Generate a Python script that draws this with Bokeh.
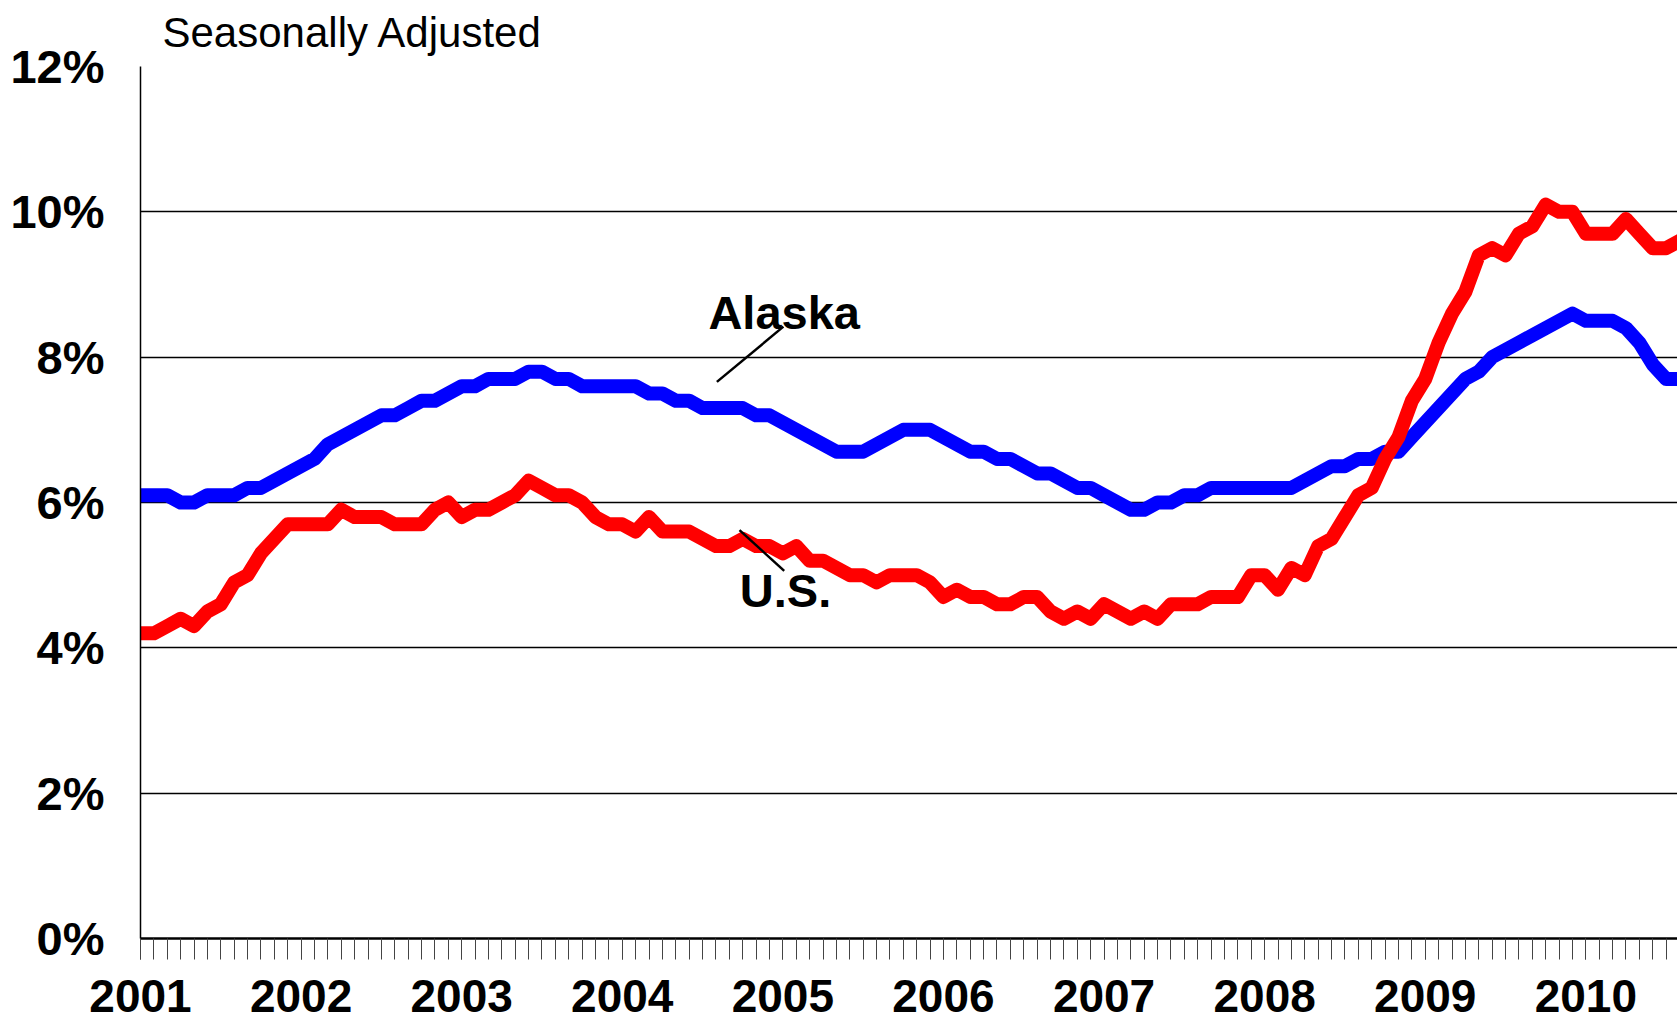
from bokeh.plotting import figure
from bokeh.models import Range1d, FixedTicker, Label, Segment, ColumnDataSource, Title
from bokeh.embed import file_html
from bokeh.resources import INLINE

# Monthly unemployment rates (%), Jan 2001 .. Aug 2010, seasonally adjusted
years = ["2001", "2002", "2003", "2004", "2005", "2006", "2007", "2008", "2009", "2010"]

alaska = [
    6.1, 6.1, 6.1, 6.0, 6.0, 6.1, 6.1, 6.1, 6.2, 6.2, 6.3, 6.4,   # 2001
    6.5, 6.6, 6.8, 6.9, 7.0, 7.1, 7.2, 7.2, 7.3, 7.4, 7.4, 7.5,   # 2002
    7.6, 7.6, 7.7, 7.7, 7.7, 7.8, 7.8, 7.7, 7.7, 7.6, 7.6, 7.6,   # 2003
    7.6, 7.6, 7.5, 7.5, 7.4, 7.4, 7.3, 7.3, 7.3, 7.3, 7.2, 7.2,   # 2004
    7.1, 7.0, 6.9, 6.8, 6.7, 6.7, 6.7, 6.8, 6.9, 7.0, 7.0, 7.0,   # 2005
    6.9, 6.8, 6.7, 6.7, 6.6, 6.6, 6.5, 6.4, 6.4, 6.3, 6.2, 6.2,   # 2006
    6.1, 6.0, 5.9, 5.9, 6.0, 6.0, 6.1, 6.1, 6.2, 6.2, 6.2, 6.2,   # 2007
    6.2, 6.2, 6.2, 6.3, 6.4, 6.5, 6.5, 6.6, 6.6, 6.7, 6.7, 6.9,   # 2008
    7.1, 7.3, 7.5, 7.7, 7.8, 8.0, 8.1, 8.2, 8.3, 8.4, 8.5, 8.6,   # 2009
    8.5, 8.5, 8.5, 8.4, 8.2, 7.9, 7.7, 7.7,                       # 2010
]

us = [
    4.2, 4.2, 4.3, 4.4, 4.3, 4.5, 4.6, 4.9, 5.0, 5.3, 5.5, 5.7,   # 2001
    5.7, 5.7, 5.7, 5.9, 5.8, 5.8, 5.8, 5.7, 5.7, 5.7, 5.9, 6.0,   # 2002
    5.8, 5.9, 5.9, 6.0, 6.1, 6.3, 6.2, 6.1, 6.1, 6.0, 5.8, 5.7,   # 2003
    5.7, 5.6, 5.8, 5.6, 5.6, 5.6, 5.5, 5.4, 5.4, 5.5, 5.4, 5.4,   # 2004
    5.3, 5.4, 5.2, 5.2, 5.1, 5.0, 5.0, 4.9, 5.0, 5.0, 5.0, 4.9,   # 2005
    4.7, 4.8, 4.7, 4.7, 4.6, 4.6, 4.7, 4.7, 4.5, 4.4, 4.5, 4.4,   # 2006
    4.6, 4.5, 4.4, 4.5, 4.4, 4.6, 4.6, 4.6, 4.7, 4.7, 4.7, 5.0,   # 2007
    5.0, 4.8, 5.1, 5.0, 5.4, 5.5, 5.8, 6.1, 6.2, 6.6, 6.9, 7.4,   # 2008
    7.7, 8.2, 8.6, 8.9, 9.4, 9.5, 9.4, 9.7, 9.8, 10.1, 10.0, 10.0, # 2009
    9.7, 9.7, 9.7, 9.9, 9.7, 9.5, 9.5, 9.6,                       # 2010
]

y_ticks = [0, 2, 4, 6, 8, 10, 12]
y_labels = ["0%", "2%", "4%", "6%", "8%", "10%", "12%"]

months = list(range(len(us)))
FONT = "Liberation Sans"

p = figure(width=1677, height=1021, output_backend="svg", toolbar_location=None,
           x_range=Range1d(0, 114.85), y_range=Range1d(0, 12),
           min_border_left=140, min_border_right=0, min_border_top=66,
           min_border_bottom=83)
p.outline_line_color = None
p.background_fill_color = "white"
p.border_fill_color = "white"

p.add_layout(Title(text="Seasonally Adjusted", align="left", offset=22,
                   standoff=17, vertical_align="top", text_font=FONT,
                   text_font_style="normal", text_font_size="42px",
                   text_color="black"), "above")

# grid
p.xgrid.grid_line_color = None
p.ygrid.ticker = FixedTicker(ticks=y_ticks)
p.ygrid.grid_line_color = "black"
p.ygrid.grid_line_width = 1.5

# y axis
p.yaxis.ticker = FixedTicker(ticks=y_ticks)
p.yaxis.major_label_overrides = {t: l for t, l in zip(y_ticks, y_labels)}
p.yaxis.major_tick_out = 0
p.yaxis.major_tick_in = 0
p.yaxis.minor_tick_out = 0
p.yaxis.minor_tick_in = 0
p.yaxis.axis_line_color = "black"
p.yaxis.axis_line_width = 1.5
p.yaxis.major_label_standoff = 36
p.yaxis.major_label_text_font = FONT
p.yaxis.major_label_text_font_style = "bold"
p.yaxis.major_label_text_font_size = "47px"
p.yaxis.major_label_text_color = "black"

# x axis (months since Jan 2001)
year_ticks = [12 * i for i in range(len(years))]
p.xaxis.ticker = FixedTicker(ticks=year_ticks, minor_ticks=months)
p.xaxis.major_label_overrides = {t: y for t, y in zip(year_ticks, years)}
p.xaxis.major_tick_out = 21
p.xaxis.major_tick_in = 0
p.xaxis.minor_tick_out = 21
p.xaxis.minor_tick_in = 0
p.xaxis.major_tick_line_color = "#444444"
p.xaxis.minor_tick_line_color = "#444444"
p.xaxis.major_tick_line_width = 1
p.xaxis.minor_tick_line_width = 1
p.xaxis.axis_line_color = "black"
p.xaxis.axis_line_width = 2.5
p.xaxis.major_label_standoff = 20
p.xaxis.major_label_text_font = FONT
p.xaxis.major_label_text_font_style = "bold"
p.xaxis.major_label_text_font_size = "46px"
p.xaxis.major_label_text_color = "black"

# series
p.line(months, alaska, line_color="#0000FF", line_width=14,
       line_join="round", line_cap="round")
p.line(months, us, line_color="#FF0000", line_width=14,
       line_join="round", line_cap="round")

# leader lines
leaders = ColumnDataSource(dict(x0=[43.07, 44.76], y0=[7.66, 5.62],
                                x1=[48.04, 48.1], y1=[8.42, 5.06]))
p.add_glyph(leaders, Segment(x0="x0", y0="y0", x1="x1", y1="y1",
                             line_color="black", line_width=2.5))

# series labels
p.add_layout(Label(x=48.1, y=8.61, text="Alaska", text_align="center",
                   text_baseline="alphabetic", text_font=FONT,
                   text_font_style="bold", text_font_size="47px",
                   text_color="black"))
p.add_layout(Label(x=48.2, y=4.785, text="U.S.", text_align="center",
                   text_baseline="alphabetic", text_font=FONT,
                   text_font_style="bold", text_font_size="47px",
                   text_color="black"))

open("out.html", "w").write(file_html(p, INLINE))
